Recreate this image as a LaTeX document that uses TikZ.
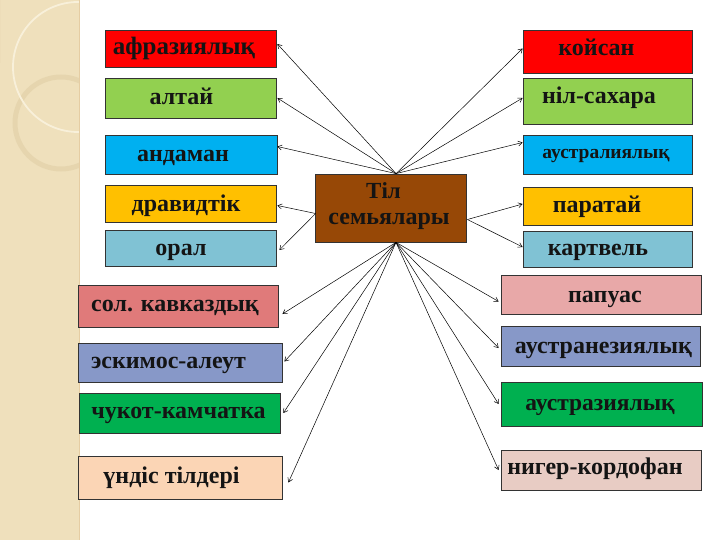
\documentclass[tikz,border=0pt]{standalone}
\usepackage{fontspec}
\setmainfont{Liberation Serif}
\usetikzlibrary{arrows.meta,calc,fit}
\definecolor{strip}{HTML}{EFE0BC}
\definecolor{ringc}{HTML}{E0CFA6}
\definecolor{arcc}{HTML}{F8F0DA}
\definecolor{cRed}{HTML}{FF0000}
\definecolor{cGreen}{HTML}{92D050}
\definecolor{cBlue}{HTML}{00B0F0}
\definecolor{cOrange}{HTML}{FFC000}
\definecolor{cAqua}{HTML}{80C2D4}
\definecolor{cRose}{HTML}{E07A7A}
\definecolor{cViolet}{HTML}{8798C8}
\definecolor{cDGreen}{HTML}{00B050}
\definecolor{cPeach}{HTML}{FBD5B5}
\definecolor{cPink}{HTML}{E8A8A8}
\definecolor{cSand}{HTML}{E8CCC4}
\definecolor{cBrown}{HTML}{974806}
\tikzset{
  box/.style={draw=black!80, line width=0.8pt, inner sep=0pt},
  lbl/.style={text=black!92, inner sep=0pt, anchor=base},
  conn/.style={line width=0.5pt, -{Straight Barb[length=4pt,width=5pt]}}
}
% name, x1, y1, x2, y2, fill, baseline point, size, text
\newcommand\bx[9]{%
  \node[box, fill=#6, fit={(#2,#3) (#4,#5)}] (#1) {};
  \node[lbl, font=\fontsize{#8}{#8}\selectfont\bfseries] (#1t) at (#7) {#9};}
\begin{document}
\begin{tikzpicture}[x=1pt,y=-1pt]
\useasboundingbox (0,0) rectangle (720,540);
\fill[white] (0,0) rectangle (720,540);
% decorative strip
\fill[strip] (0,0) rectangle (79,540);
\begin{scope}
\clip (0,0) rectangle (79,540);
\draw[ringc, line width=5pt, opacity=0.6] (61,123) circle (46);
\draw[arcc, line width=1.8pt] (78,67) circle (65);
\draw[ringc!80!brown, line width=0.4pt, opacity=0.5] (63,0) arc[start angle=0, end angle=-90, radius=63] -- (0,63);
\end{scope}
\draw[strip!80!brown, line width=0.4pt] (79,0) -- (79,540);
% left upper
\bx{afr}{105}{30}{276}{67}{cRed}{184,55}{25}{афразиялық}
\bx{alt}{105}{78}{276}{118}{cGreen}{181.5,105}{24}{алтай}
\bx{and}{105}{135}{277}{174}{cBlue}{183,161.5}{24}{андаман}
\bx{drav}{105}{185}{276}{222}{cOrange}{186,211.5}{24}{дравидтік}
\bx{oral}{105}{230}{276}{266}{cAqua}{181,255}{24}{орал}
% left lower
\bx{sol}{78}{285}{278}{327}{cRose}{175,311.5}{24}{сол. кавказдық}
\bx{esk}{78}{343}{282}{382}{cViolet}{168.5,368}{24}{эскимос-алеут}
\bx{chuk}{79}{393}{280}{433}{cDGreen}{178.5,418}{24}{чукот-камчатка}
\bx{und}{78}{456}{282}{499}{cPeach}{171.5,483}{24}{үндіс тілдері}
% right upper
\bx{koy}{523}{30}{692}{73}{cRed}{596.5,56}{24}{койсан}
\bx{nil}{523}{78}{692}{124}{cGreen}{599,103.5}{24}{ніл-сахара}
\bx{aus}{523}{135}{692}{174}{cBlue}{606,158.5}{19.5}{аустралиялық}
\bx{par}{523}{187}{692}{225}{cOrange}{597,213}{24}{паратай}
\bx{kart}{523}{231}{692}{267}{cAqua}{598,255}{24}{картвель}
% right lower
\bx{pap}{501}{275}{701}{314}{cPink}{605,302}{24}{папуас}
\bx{austran}{501}{326}{700}{366}{cViolet}{603.5,353}{24}{аустранезиялық}
\bx{austraz}{501}{382}{702}{426}{cDGreen}{600,410}{23.5}{аустразиялық}
\bx{niger}{501}{450}{701}{490}{cSand}{595,474}{24}{нигер-кордофан}
% centre
\node[box, fill=cBrown, fit={(315,174) (466,242)}] (tf) {};
\node[lbl, font=\fontsize{23}{23}\selectfont\bfseries] (tf1) at (383.5,199) {Тіл};
\node[lbl, font=\fontsize{24}{24}\selectfont\bfseries] (tf2) at (389,225) {семьялары};
% connectors
\coordinate (top) at ($(tf.north)+(5.5,0)$);
\coordinate (bot) at ($(tf.south)+(5.5,0)$);
\coordinate (lft) at ($(tf.west)+(1,5.5)$);
\coordinate (rgt) at ($(tf.east)+(1,11.5)$);
\draw[conn] (top) -- ($(afr.east)+(1,-4.5)$);
\draw[conn] (top) -- ($(alt.east)+(1,0)$);
\draw[conn] (top) -- ($(and.east)+(0,-8)$);
\draw[conn] (lft) -- ($(drav.east)+(1,2)$);
\draw[conn] (lft) -- ($(oral.east)+(3,2)$);
\draw[conn] (top) -- ($(koy.west)+(0,-3)$);
\draw[conn] (top) -- ($(nil.west)+(0,-3)$);
\draw[conn] (top) -- ($(aus.west)+(0,-12)$);
\draw[conn] (rgt) -- ($(par.west)+(0,-2)$);
\draw[conn] (rgt) -- ($(kart.west)+(0,-2)$);
\draw[conn] (bot) -- ($(sol.east)+(4,8)$);
\draw[conn] (bot) -- ($(esk.east)+(2,-1)$);
\draw[conn] (bot) -- ($(chuk.east)+(3,0)$);
\draw[conn] (bot) -- ($(und.east)+(6,5)$);
\draw[conn] (bot) -- ($(pap.west)+(-2,7)$);
\draw[conn] (bot) -- ($(austran.west)+(-2,2)$);
\draw[conn] (bot) -- ($(austraz.west)+(-2,0)$);
\draw[conn] (bot) -- ($(niger.west)+(-2,0)$);
\end{tikzpicture}
\end{document}
